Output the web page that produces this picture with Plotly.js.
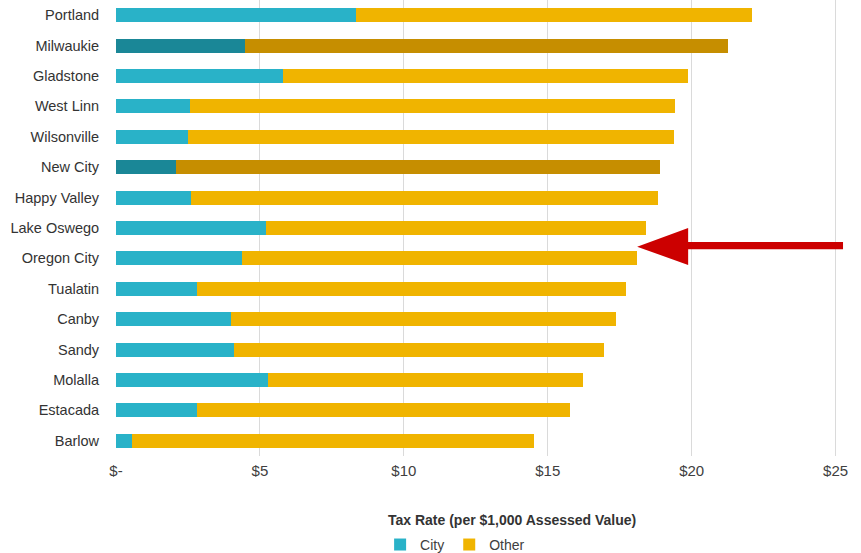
<!DOCTYPE html>
<html>
<head>
<meta charset="utf-8">
<script src="https://cdn.plot.ly/plotly-3.0.1.min.js"></script>
<style>html,body{margin:0;padding:0;background:#fff;}#chart{width:861px;height:553px;}</style>
</head>
<body>
<div id="chart"></div>
<script>
// Data (top to bottom as shown)
const cities = ["Portland","Milwaukie","Gladstone","West Linn","Wilsonville","New City","Happy Valley","Lake Oswego","Oregon City","Tualatin","Canby","Sandy","Molalla","Estacada","Barlow"];
const cityRate = [8.33,4.47,5.79,2.56,2.49,2.10,2.59,5.20,4.37,2.83,3.98,4.09,5.27,2.83,0.54];
const totalRate = [22.10,21.27,19.88,19.43,19.39,18.90,18.83,18.42,18.10,17.72,17.37,16.96,16.23,15.77,14.52];
const otherRate = totalRate.map((t,i)=>+(t-cityRate[i]).toFixed(2));
const highlighted = ["Milwaukie","New City"];
const tickVals = [0,5,10,15,20,25];
const tickText = ["$-","$5","$10","$15","$20","$25"];

const cityColor = "#29B2C8", cityDark = "#1A8797";
const otherColor = "#F0B400", otherDark = "#C68E00";
const cityColors = cities.map(c => highlighted.includes(c) ? cityDark : cityColor);
const otherColors = cities.map(c => highlighted.includes(c) ? otherDark : otherColor);

const font = "Liberation Sans, Arial, sans-serif";
const txt = "#404040";

const data = [
  {type:"bar", orientation:"h", name:"City", y:cities, x:cityRate,
   marker:{color:cityColors}, hoverinfo:"x+y"},
  {type:"bar", orientation:"h", name:"Other", y:cities, x:otherRate,
   marker:{color:otherColors}, hoverinfo:"x+y"}
];

const layout = {
  width:861, height:553,
  margin:{l:115.5, r:11, t:0, b:97, autoexpand:false},
  barmode:"stack", bargap:0.54,
  paper_bgcolor:"#fff", plot_bgcolor:"#fff",
  font:{family:font, color:txt, size:14},
  xaxis:{range:[0,25.5], tickvals:tickVals, ticktext:tickText,
    showgrid:true, gridcolor:"#DADADA", gridwidth:1, zeroline:false,
    showline:false, ticks:"outside", ticklen:1, tickcolor:"rgba(0,0,0,0)",
    tickfont:{size:15, color:txt}, fixedrange:true, automargin:false},
  yaxis:{autorange:"reversed", showgrid:false, zeroline:false, showline:false,
    ticks:"outside", ticklen:13, tickcolor:"rgba(0,0,0,0)",
    tickfont:{size:14.5, color:"#333"}, fixedrange:true, automargin:false},
  showlegend:true,
  legend:{orientation:"h", x:0.462, xanchor:"center", y:-0.195, yanchor:"middle",
    font:{size:14, color:txt}, traceorder:"normal"},
  annotations:[
    {text:"<b>Tax Rate (per $1,000 Assessed Value)</b>", xref:"paper", yref:"paper",
     x:0.54, y:-0.14, xanchor:"center", yanchor:"middle", showarrow:false,
     font:{size:14, color:"#333"}}
  ],
  shapes:[
    {type:"path", xref:"paper", yref:"paper",
     path:"M 0.9905,0.4693 L 0.7795,0.4693 L 0.7795,0.5 L 0.71,0.459 L 0.7795,0.4189 L 0.7795,0.4533 L 0.9905,0.4533 Z",
     fillcolor:"#CC0000", line:{width:0}}
  ]
};

Plotly.newPlot("chart", data, layout, {displayModeBar:false, staticPlot:true});
</script>
</body>
</html>
